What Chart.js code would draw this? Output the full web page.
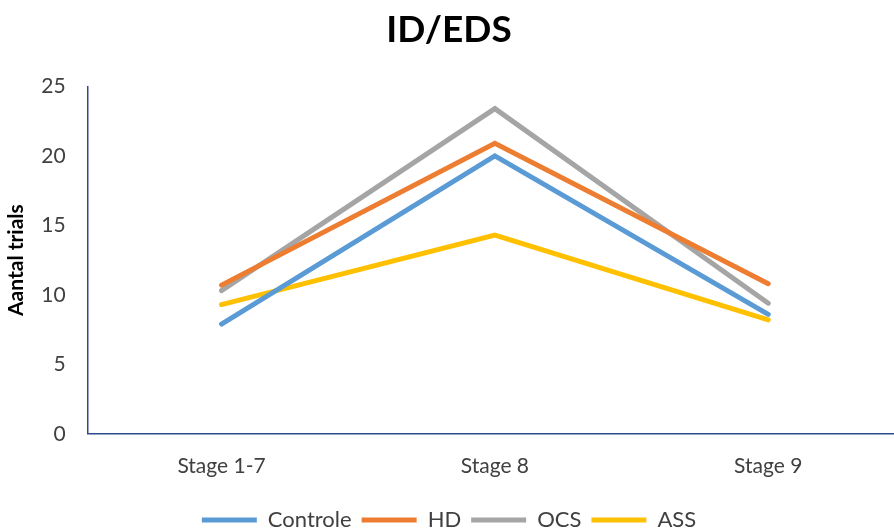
<!DOCTYPE html>
<html>
<head>
<meta charset="utf-8">
<script src="https://cdn.jsdelivr.net/npm/chart.js@4"></script>
<style>
  html, body { margin: 0; padding: 0; background: #fff; }
  #wrap { width: 894px; height: 528px; overflow: hidden; }
</style>
</head>
<body>
<div id="wrap"><canvas id="c" width="894" height="528"></canvas></div>
<script>
const stages = ['Stage 1-7', 'Stage 8', 'Stage 9'];
const controle = [7.9, 20.0, 8.6];
const hd = [10.7, 20.9, 10.8];
const ocs = [10.3, 23.4, 9.4];
const ass = [9.3, 14.3, 8.2];
const yTicks = [0, 5, 10, 15, 20, 25];

const FONT = 'Lato, "Open Sans", sans-serif';

function series(label, data, color) {
  return {
    label, data,
    borderColor: color, backgroundColor: color,
    borderWidth: 5, borderCapStyle: 'round', borderJoinStyle: 'miter',
    pointRadius: 0, pointHoverRadius: 0, tension: 0, fill: false
  };
}

new Chart(document.getElementById('c'), {
  type: 'line',
  data: {
    labels: stages,
    datasets: [
      series('Controle', controle, '#5B9BD5'),
      series('HD', hd, '#ED7D31'),
      series('OCS', ocs, '#A5A5A5'),
      series('ASS', ass, '#FFC000')
    ]
  },
  options: {
    responsive: false,
    animation: false,
    layout: { padding: { left: 4, right: 0, top: 4, bottom: -13 } },
    plugins: {
      title: {
        display: true, text: 'ID/EDS', color: '#000',
        font: { family: FONT, size: 37, weight: 'bold' },
        padding: { top: 4, bottom: 34 }
      },
      legend: {
        position: 'bottom',
        labels: {
          color: '#404040', font: { family: FONT, size: 22 },
          boxWidth: 55, boxHeight: 5, padding: 10,
          generateLabels(chart) {
            return chart.data.datasets.map((d, i) => ({
              text: d.label,
              fillStyle: d.borderColor, strokeStyle: d.borderColor,
              lineWidth: 0, datasetIndex: i, fontColor: '#404040'
            }));
          }
        }
      },
      tooltip: { enabled: false }
    },
    scales: {
      x: {
        offset: true,
        // the last category band runs slightly past the right edge of the plot
        afterBuildTicks(scale) {
          scale._startValue = -0.49;
          scale._valueRange = 2.95;
        },
        grid: { display: false, drawTicks: false },
        border: { display: true, color: '#2F4A8C', width: 1.5 },
        ticks: { color: '#404040', font: { family: FONT, size: 21 }, padding: 20 }
      },
      y: {
        min: 0, max: 25,
        afterBuildTicks(scale) { scale.ticks = yTicks.map(v => ({ value: v })); },
        grid: { display: false, drawTicks: false },
        border: { display: true, color: '#2F4A8C', width: 1.5 },
        ticks: { color: '#404040', font: { family: FONT, size: 21 }, padding: 22 },
        title: {
          display: true, text: 'Aantal trials', color: '#000',
          font: { family: FONT, size: 21, weight: 'bold' }, padding: { top: 0, bottom: -10 }
        }
      }
    }
  }
});
</script>
</body>
</html>
